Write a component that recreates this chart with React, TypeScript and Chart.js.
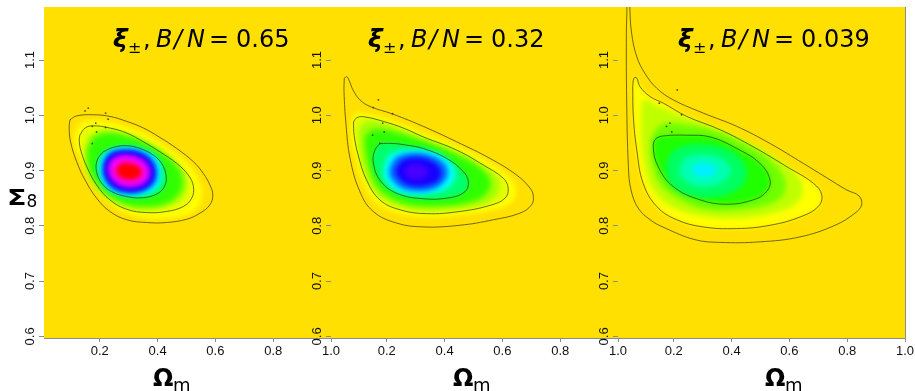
import React, { useEffect, useRef } from "react";
import { Chart, registerables } from "chart.js";

Chart.register(...registerables);

type Pt = [number, number];

// ---------- axes ----------
const X_MIN = 0.007;
const X_MAX = 1.0;
const Y_MIN = 0.597;
const Y_MAX = 1.196;
const xTickValues = [0.2, 0.4, 0.6, 0.8, 1.0];
const yTickValues = [0.6, 0.7, 0.8, 0.9, 1.0, 1.1];
const bnLabels = ["0.65", "0.32", "0.039"];

// ---------- panel 1 (B/N = 0.65) ----------
const p1Outer: Pt[] = [[0.097,0.992],[0.120,0.999],[0.178,1.001],[0.235,0.998],[0.293,0.989],[0.351,0.977],[0.408,0.960],[0.466,0.940],[0.524,0.916],[0.558,0.895],[0.581,0.874],[0.591,0.856],[0.581,0.838],[0.547,0.823],[0.501,0.812],[0.431,0.806],[0.362,0.806],[0.293,0.811],[0.235,0.826],[0.189,0.850],[0.149,0.883],[0.120,0.916],[0.099,0.952],[0.094,0.977]];
const p1Middle: Pt[] = [[0.131,0.964],[0.149,0.977],[0.178,0.981],[0.235,0.977],[0.293,0.968],[0.351,0.952],[0.408,0.934],[0.466,0.913],[0.506,0.892],[0.524,0.871],[0.518,0.850],[0.489,0.835],[0.431,0.826],[0.362,0.824],[0.293,0.830],[0.235,0.847],[0.189,0.874],[0.155,0.907],[0.134,0.937],[0.129,0.955]];
const p1Inner: Pt[] = [[0.212,0.934],[0.247,0.942],[0.293,0.945],[0.339,0.940],[0.385,0.928],[0.414,0.913],[0.429,0.892],[0.426,0.874],[0.402,0.859],[0.351,0.851],[0.293,0.853],[0.241,0.862],[0.207,0.877],[0.189,0.898],[0.191,0.919]];
const p1Yellow: Pt[] = [[0.111,0.964],[0.131,0.984],[0.176,0.991],[0.242,0.987],[0.304,0.977],[0.374,0.961],[0.443,0.937],[0.505,0.912],[0.543,0.883],[0.554,0.856],[0.536,0.832],[0.488,0.818],[0.408,0.813],[0.325,0.818],[0.263,0.832],[0.208,0.858],[0.166,0.890],[0.131,0.925],[0.114,0.946]];
const p1Green2: Pt[] = [[0.149,0.941],[0.170,0.964],[0.225,0.973],[0.294,0.966],[0.363,0.952],[0.429,0.931],[0.478,0.908],[0.500,0.882],[0.488,0.855],[0.439,0.837],[0.360,0.830],[0.284,0.836],[0.221,0.852],[0.176,0.878],[0.152,0.908]];
const p1Green: Pt[] = [[0.159,0.937],[0.183,0.959],[0.235,0.966],[0.298,0.961],[0.367,0.946],[0.426,0.926],[0.467,0.905],[0.484,0.881],[0.471,0.858],[0.426,0.841],[0.356,0.836],[0.287,0.841],[0.228,0.858],[0.187,0.881],[0.163,0.908]];
const p1Cyan: Pt[] = [[0.206,0.923],[0.232,0.936],[0.291,0.942],[0.353,0.937],[0.396,0.924],[0.413,0.899],[0.405,0.874],[0.367,0.859],[0.298,0.854],[0.239,0.863],[0.208,0.882],[0.199,0.905]];
const p1Sky: Pt[] = [[0.215,0.921],[0.237,0.934],[0.291,0.939],[0.348,0.934],[0.386,0.920],[0.401,0.898],[0.391,0.876],[0.349,0.862],[0.289,0.859],[0.239,0.868],[0.213,0.887],[0.208,0.906]];
const p1Blue: Pt[] = [[0.220,0.919],[0.242,0.931],[0.291,0.936],[0.343,0.931],[0.377,0.917],[0.391,0.897],[0.381,0.878],[0.343,0.864],[0.287,0.862],[0.242,0.872],[0.218,0.890],[0.215,0.907]];
const p1Violet: Pt[] = [[0.228,0.916],[0.251,0.927],[0.294,0.931],[0.339,0.926],[0.369,0.914],[0.381,0.897],[0.369,0.879],[0.332,0.868],[0.282,0.868],[0.244,0.878],[0.225,0.895],[0.223,0.908]];
const p1Magenta: Pt[] = [[0.237,0.914],[0.260,0.924],[0.298,0.926],[0.336,0.921],[0.360,0.910],[0.369,0.896],[0.356,0.881],[0.322,0.873],[0.277,0.874],[0.246,0.885],[0.234,0.899]];
const p1Red: Pt[] = [[0.260,0.907],[0.280,0.914],[0.311,0.913],[0.336,0.907],[0.346,0.896],[0.332,0.886],[0.301,0.883],[0.270,0.888],[0.256,0.897]];
const p1Dots: Pt[] = [[0.149,1.008],[0.160,1.013],[0.220,1.004],[0.229,0.993],[0.186,0.986],[0.174,0.980],[0.220,0.978],[0.189,0.970],[0.174,0.949]];

// ---------- panel 2 (B/N = 0.32) ----------
const p2Outer: Pt[] = [[0.053,1.067],[0.061,1.070],[0.069,1.064],[0.083,1.046],[0.107,1.028],[0.142,1.016],[0.222,1.002],[0.326,0.980],[0.442,0.952],[0.557,0.922],[0.649,0.892],[0.696,0.868],[0.707,0.854],[0.701,0.838],[0.661,0.823],[0.569,0.811],[0.453,0.801],[0.326,0.798],[0.234,0.805],[0.153,0.826],[0.107,0.862],[0.073,0.922],[0.059,0.983],[0.052,1.043]];
const p2Middle: Pt[] = [[0.085,0.988],[0.097,0.996],[0.125,0.997],[0.188,0.989],[0.257,0.977],[0.326,0.961],[0.442,0.937],[0.534,0.910],[0.603,0.886],[0.620,0.868],[0.609,0.850],[0.557,0.837],[0.453,0.826],[0.338,0.822],[0.246,0.829],[0.176,0.847],[0.130,0.883],[0.101,0.928],[0.087,0.964]];
const p2Inner: Pt[] = [[0.176,0.949],[0.222,0.949],[0.269,0.946],[0.326,0.940],[0.407,0.922],[0.465,0.898],[0.482,0.880],[0.471,0.862],[0.419,0.851],[0.326,0.849],[0.234,0.859],[0.176,0.883],[0.153,0.916],[0.159,0.937]];
const p2Yellow: Pt[] = [[0.080,0.992],[0.093,1.004],[0.125,1.003],[0.194,0.995],[0.325,0.968],[0.446,0.943],[0.550,0.916],[0.626,0.888],[0.647,0.865],[0.633,0.843],[0.567,0.829],[0.453,0.820],[0.336,0.816],[0.239,0.823],[0.166,0.841],[0.118,0.879],[0.090,0.928],[0.076,0.964]];
const p2YellowGreen: Pt[] = [[0.104,0.977],[0.135,0.990],[0.204,0.983],[0.322,0.959],[0.436,0.936],[0.533,0.908],[0.585,0.883],[0.578,0.856],[0.522,0.838],[0.408,0.830],[0.298,0.830],[0.218,0.841],[0.159,0.863],[0.121,0.901],[0.107,0.941]];
const p2Green: Pt[] = [[0.125,0.964],[0.159,0.974],[0.228,0.969],[0.332,0.952],[0.436,0.930],[0.522,0.905],[0.557,0.881],[0.543,0.858],[0.488,0.843],[0.384,0.836],[0.280,0.839],[0.204,0.854],[0.159,0.879],[0.135,0.916],[0.125,0.946]];
const p2Cyan: Pt[] = [[0.192,0.912],[0.215,0.930],[0.287,0.938],[0.363,0.934],[0.415,0.918],[0.438,0.897],[0.422,0.874],[0.363,0.859],[0.273,0.857],[0.218,0.868],[0.190,0.890]];
const p2Sky: Pt[] = [[0.211,0.908],[0.235,0.925],[0.294,0.932],[0.356,0.927],[0.398,0.914],[0.412,0.896],[0.394,0.877],[0.346,0.864],[0.277,0.864],[0.232,0.875],[0.209,0.892]];
const p2Blue: Pt[] = [[0.232,0.905],[0.253,0.918],[0.298,0.924],[0.349,0.919],[0.381,0.907],[0.389,0.894],[0.374,0.880],[0.332,0.872],[0.280,0.873],[0.246,0.883],[0.230,0.896]];
const p2Violet: Pt[] = [[0.260,0.901],[0.277,0.910],[0.304,0.912],[0.332,0.907],[0.344,0.897],[0.332,0.887],[0.301,0.884],[0.273,0.888]];
const p2Dots: Pt[] = [[0.171,1.028],[0.153,1.014],[0.220,1.003],[0.186,0.986],[0.191,0.970],[0.151,0.964],[0.176,0.949]];

// ---------- panel 3 (B/N = 0.039) ----------
const p3Outer: Pt[] = [[0.038,1.25],[0.038,1.196],[0.036,1.149],[0.037,1.028],[0.043,0.907],[0.052,0.865],[0.077,0.832],[0.118,0.811],[0.170,0.796],[0.273,0.775],[0.360,0.770],[0.498,0.771],[0.637,0.780],[0.758,0.801],[0.827,0.823],[0.850,0.838],[0.841,0.854],[0.798,0.865],[0.729,0.887],[0.648,0.913],[0.533,0.949],[0.418,0.980],[0.302,1.004],[0.198,1.028],[0.141,1.049],[0.100,1.076],[0.072,1.106],[0.054,1.149],[0.048,1.196],[0.047,1.25]];
const p3Middle: Pt[] = [[0.058,1.052],[0.062,1.067],[0.071,1.068],[0.083,1.052],[0.118,1.034],[0.164,1.022],[0.245,0.998],[0.360,0.974],[0.475,0.943],[0.591,0.907],[0.683,0.877],[0.712,0.856],[0.700,0.835],[0.637,0.816],[0.533,0.801],[0.418,0.795],[0.302,0.798],[0.210,0.811],[0.141,0.835],[0.094,0.877],[0.072,0.937],[0.060,0.998]];
const p3Inner: Pt[] = [[0.187,0.964],[0.245,0.964],[0.325,0.961],[0.418,0.940],[0.498,0.913],[0.533,0.883],[0.521,0.862],[0.475,0.847],[0.383,0.839],[0.291,0.847],[0.198,0.871],[0.146,0.907],[0.129,0.943],[0.141,0.959]];
const p3YellowGreen: Pt[] = [[0.087,1.001],[0.097,1.028],[0.135,1.019],[0.221,1.001],[0.343,0.977],[0.464,0.950],[0.574,0.916],[0.637,0.883],[0.644,0.856],[0.609,0.836],[0.526,0.821],[0.412,0.814],[0.298,0.818],[0.204,0.832],[0.142,0.856],[0.107,0.892],[0.090,0.946]];
const p3Green2: Pt[] = [[0.125,0.964],[0.159,0.984],[0.249,0.983],[0.353,0.970],[0.457,0.945],[0.540,0.916],[0.585,0.883],[0.578,0.856],[0.526,0.838],[0.422,0.829],[0.308,0.830],[0.215,0.849],[0.152,0.876],[0.125,0.919]];
const p3Spring: Pt[] = [[0.176,0.916],[0.201,0.937],[0.266,0.947],[0.343,0.945],[0.408,0.932],[0.446,0.910],[0.450,0.887],[0.419,0.865],[0.343,0.852],[0.263,0.854],[0.204,0.868],[0.176,0.892]];
const p3Aqua: Pt[] = [[0.221,0.908],[0.242,0.924],[0.291,0.929],[0.346,0.926],[0.384,0.914],[0.398,0.899],[0.381,0.883],[0.336,0.872],[0.280,0.871],[0.239,0.881],[0.220,0.896]];
const p3Cyan: Pt[] = [[0.260,0.903],[0.277,0.912],[0.308,0.914],[0.336,0.910],[0.349,0.901],[0.336,0.891],[0.304,0.887],[0.273,0.892]];
const p3Dots: Pt[] = [[0.212,1.046],[0.150,1.022],[0.227,1.001],[0.187,0.986],[0.175,0.980],[0.193,0.970]];

// ---------- styling ----------
const GOLD = "#FFE000";
const CONTOUR = "rgba(45,45,25,0.85)";
const AXIS = "#8c8c8c";
const BLUR = "blur(2.5px)";

type Band = { pts: Pt[]; color: string };

const panelBands: Band[][] = [
  [
    { pts: p1Yellow, color: "#FFFF00" },
    { pts: p1Middle, color: "#E6FF00" },
    { pts: p1Green2, color: "#90FF00" },
    { pts: p1Green, color: "#30FF00" },
    { pts: p1Inner, color: "#00FF80" },
    { pts: p1Cyan, color: "#00FFFF" },
    { pts: p1Sky, color: "#0090FF" },
    { pts: p1Blue, color: "#0000FF" },
    { pts: p1Violet, color: "#7000FF" },
    { pts: p1Magenta, color: "#FF00FF" },
    { pts: p1Red, color: "#FF0000" },
  ],
  [
    { pts: p2Yellow, color: "#FFFF00" },
    { pts: p2Middle, color: "#E0FF00" },
    { pts: p2YellowGreen, color: "#A0FF00" },
    { pts: p2Green, color: "#30FF00" },
    { pts: p2Inner, color: "#00FF70" },
    { pts: p2Cyan, color: "#00FFFF" },
    { pts: p2Sky, color: "#0070FF" },
    { pts: p2Blue, color: "#1800FF" },
    { pts: p2Violet, color: "#4800FF" },
  ],
  [
    { pts: p3Middle, color: "#FFFF00" },
    { pts: p3YellowGreen, color: "#C0FF00" },
    { pts: p3Green2, color: "#70FF00" },
    { pts: p3Inner, color: "#20FF00" },
    { pts: p3Spring, color: "#00FF60" },
    { pts: p3Aqua, color: "#00FFB0" },
    { pts: p3Cyan, color: "#00F0FF" },
  ],
];
const panelContours: Pt[][][] = [
  [p1Outer, p1Middle, p1Inner],
  [p2Outer, p2Middle, p2Inner],
  [p3Outer, p3Middle, p3Inner],
];
const panelDots: Pt[][] = [p1Dots, p2Dots, p3Dots];

// ---------- layout ----------
const W = 915;
const H = 391;
const PANEL_LEFT = [44, 331, 618];
const PANEL_RIGHT = [331, 618, 905];
const PLOT_TOP = 7;
const PLOT_BOTTOM = 338;
const Y_AXIS_W = 5;
const X_AXIS_H = 30;
const TITLE_X = [113, 368, 678];
const OMEGA_X = [153, 453, 765];

const toXY = (pts: Pt[], close: boolean) => {
  const arr = pts.map(([x, y]) => ({ x, y }));
  if (close && pts.length) arr.push({ x: pts[0][0], y: pts[0][1] });
  return arr;
};

const bgPlugin = {
  id: "goldBg",
  beforeDraw(chart: any) {
    const { ctx, chartArea: a } = chart;
    ctx.save();
    ctx.fillStyle = GOLD;
    ctx.fillRect(a.left, a.top, a.right - a.left, a.bottom - a.top);
    ctx.restore();
  },
};

const blurPlugin = {
  id: "bandBlur",
  beforeDatasetsDraw(chart: any) {
    chart.ctx.filter = BLUR;
  },
  beforeDatasetDraw(chart: any, args: any) {
    const ds: any = chart.data.datasets[args.index];
    chart.ctx.filter = ds.bandLayer ? BLUR : "none";
  },
  afterDatasetsDraw(chart: any) {
    chart.ctx.filter = "none";
  },
};

function makeTextPlugin(i: number) {
  return {
    id: "panelText" + i,
    afterDraw(chart: any) {
      const { ctx, chartArea: a } = chart;
      const yScale = chart.scales.y;
      ctx.save();
      ctx.filter = "none";
      ctx.fillStyle = "#111";
      // rotated y tick labels
      ctx.font = '13px "Liberation Sans", Arial, sans-serif';
      ctx.textAlign = "center";
      ctx.textBaseline = "alphabetic";
      for (const v of yTickValues) {
        const py = yScale.getPixelForValue(v);
        ctx.save();
        ctx.translate(a.left - 10, py);
        ctx.rotate(-Math.PI / 2);
        ctx.fillText(v.toFixed(1), 0, 0);
        ctx.restore();
      }
      // title
      ctx.fillStyle = "#000";
      ctx.textAlign = "left";
      const tx = TITLE_X[i];
      const base = 47;
      const pieces: [string, string, number, number][] = [
        ["ξ", 'bold italic 25px "DejaVu Sans"', 0, 0],
        ["±", '16px "DejaVu Sans"', 15, 6],
        [",", '24px "DejaVu Sans"', 30, 0],
        ["B", 'italic 24px "DejaVu Sans"', 43, 0],
        ["/", 'italic 24px "DejaVu Sans"', 61, 0],
        ["N", 'italic 24px "DejaVu Sans"', 74, 0],
        ["=", '24px "DejaVu Sans"', 96, 0],
        [bnLabels[i], '24px "DejaVu Sans"', 123, 0],
      ];
      for (const [t, f, dx, dy] of pieces) {
        ctx.font = f;
        ctx.fillText(t, tx + dx, base + dy);
      }
      // x axis title
      const ox = OMEGA_X[i];
      ctx.font = 'bold 24px "DejaVu Sans"';
      ctx.fillText("Ω", ox, 386);
      ctx.font = '18px "DejaVu Sans"';
      ctx.fillText("m", ox + 20, 391);
      // y axis title (first panel only)
      if (i === 0) {
        ctx.save();
        ctx.translate(7, 204.5);
        ctx.scale(1.3, 1);
        ctx.font = 'bold 22px "DejaVu Sans"';
        ctx.fillText("Σ", 0, 0);
        ctx.restore();
        ctx.font = '17px "DejaVu Sans"';
        ctx.fillText("8", 26.5, 207);
      }
      // right frame for the last panel
      if (i === 2) {
        ctx.strokeStyle = AXIS;
        ctx.lineWidth = 1;
        ctx.beginPath();
        ctx.moveTo(a.right + 0.5, a.top);
        ctx.lineTo(a.right + 0.5, a.bottom);
        ctx.stroke();
      }
      ctx.restore();
    },
  };
}

function makeConfig(i: number): any {
  const datasets: any[] = [];
  panelBands[i].forEach((b, k) => {
    datasets.push({
      data: toXY(b.pts, true),
      showLine: true,
      fill: "shape",
      backgroundColor: b.color,
      borderColor: "rgba(0,0,0,0)",
      borderWidth: 0,
      pointRadius: 0,
      tension: 0.4,
      order: 1000 - k,
      bandLayer: true,
    });
  });
  panelContours[i].forEach((c, k) => {
    datasets.push({
      data: toXY(c, !(i === 2 && k === 0)),
      showLine: true,
      fill: false,
      borderColor: CONTOUR,
      borderWidth: 0.8,
      pointRadius: 0,
      tension: 0.4,
      order: 10 + k,
    });
  });
  datasets.push({
    data: toXY(panelDots[i], false),
    showLine: false,
    pointRadius: 0.9,
    pointBorderWidth: 0,
    pointBackgroundColor: "rgba(50,50,30,0.85)",
    order: 1,
  });

  return {
    type: "scatter",
    data: { datasets },
    options: {
      responsive: false,
      maintainAspectRatio: false,
      animation: false,
      events: [],
      layout: {
        padding: {
          left: PANEL_LEFT[i] - Y_AXIS_W,
          right: W - PANEL_RIGHT[i],
          top: PLOT_TOP,
          bottom: H - PLOT_BOTTOM - X_AXIS_H,
        },
      },
      plugins: {
        legend: { display: false },
        tooltip: { enabled: false },
        title: { display: false },
      },
      scales: {
        x: {
          type: "linear",
          min: X_MIN,
          max: X_MAX,
          afterBuildTicks: (s: any) => {
            s.ticks = xTickValues.map((v) => ({ value: v }));
          },
          afterFit: (s: any) => {
            s.height = X_AXIS_H;
            s.paddingLeft = 0;
            s.paddingRight = 0;
          },
          grid: { display: true, drawOnChartArea: false, drawTicks: true, tickLength: 4, color: AXIS, lineWidth: 1 },
          border: { display: true, color: AXIS, width: 1 },
          ticks: {
            font: { family: '"Liberation Sans", Arial, sans-serif', size: 13 },
            color: "#111",
            padding: 2,
            minRotation: 0,
            maxRotation: 0,
            autoSkip: false,
            callback: (v: any) => Number(v).toFixed(1),
          },
        },
        y: {
          type: "linear",
          min: Y_MIN,
          max: Y_MAX,
          afterBuildTicks: (s: any) => {
            s.ticks = yTickValues.map((v) => ({ value: v }));
          },
          afterFit: (s: any) => {
            s.width = Y_AXIS_W;
            s.paddingTop = 0;
            s.paddingBottom = 0;
          },
          grid: { display: true, drawOnChartArea: false, drawTicks: true, tickLength: 5, color: AXIS, lineWidth: 1 },
          border: { display: false },
          ticks: { display: false },
        },
      },
    },
    plugins: [bgPlugin, blurPlugin, makeTextPlugin(i)],
  };
}

function Panel({ index }: { index: number }) {
  const ref = useRef<HTMLCanvasElement | null>(null);
  useEffect(() => {
    if (!ref.current) return;
    const chart = new Chart(ref.current, makeConfig(index));
    return () => chart.destroy();
  }, [index]);
  return (
    <canvas
      ref={ref}
      width={W}
      height={H}
      style={{ position: "absolute", left: 0, top: 0, width: W, height: H, display: "block" }}
    />
  );
}

export default function App() {
  return (
    <div style={{ position: "absolute", left: 0, top: 0, width: W, height: H, background: "#fff", overflow: "hidden" }}>
      <Panel index={0} />
      <Panel index={1} />
      <Panel index={2} />
    </div>
  );
}
